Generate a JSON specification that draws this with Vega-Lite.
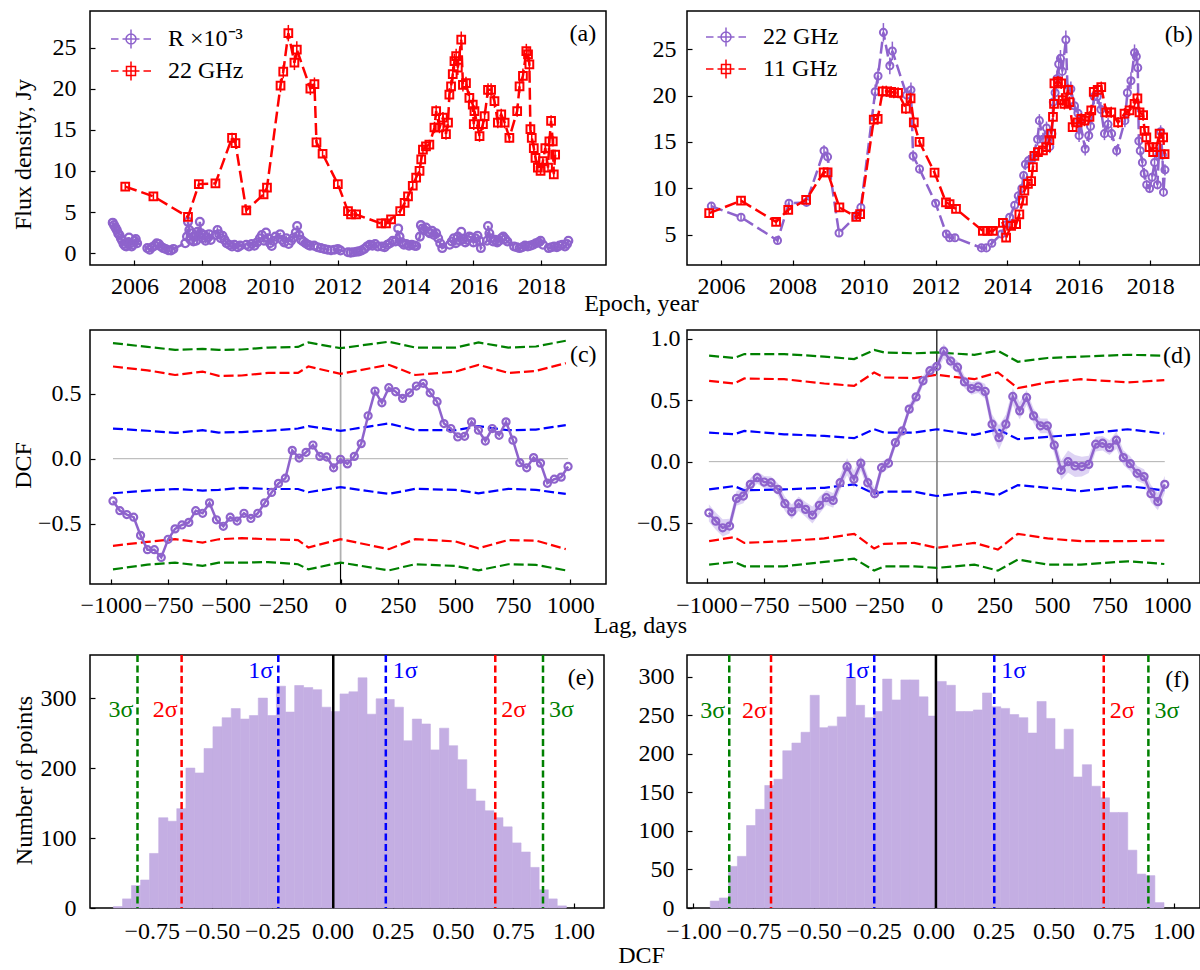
{
"$schema": "https://vega.github.io/schema/vega-lite/v6.json",
"background": "white",
"padding": {"left": 10, "top": 10, "right": 0, "bottom": 0},
"config": {
 "font": "Liberation Serif",
 "view": {"stroke": "black", "strokeWidth": 1.5},
 "axis": {"domain": false, "grid": false, "tickColor": "black", "tickWidth": 1.2, "tickSize": -5, "labelFont": "Liberation Serif", "labelFontSize": 24, "labelColor": "black", "titleFont": "Liberation Serif", "titleFontSize": 24, "titleFontWeight": "normal", "titleColor": "black", "labelFlush": false, "labelOverlap": false},
 "axisX": {"labelPadding": 14},
 "axisY": {"labelPadding": 19}
},
"datasets": {
 "R": [
  {"t":2005.36,"v":3.7},{"t":2005.40,"v":3.4},{"t":2005.44,"v":3.1},{"t":2005.48,"v":2.8},{"t":2005.52,"v":2.4},{"t":2005.56,"v":2.2},{"t":2005.60,"v":1.8},{"t":2005.64,"v":1.5},{"t":2005.68,"v":1.1},{"t":2005.72,"v":0.9},{"t":2005.76,"v":0.8},{"t":2005.80,"v":1.3},{"t":2005.84,"v":1.9},{"t":2005.88,"v":1.2},{"t":2005.92,"v":0.8},{"t":2005.96,"v":1.0},{"t":2006.00,"v":1.5},{"t":2006.04,"v":1.7},{"t":2006.08,"v":1.2},
  {"t":2006.38,"v":0.6},{"t":2006.45,"v":0.4},{"t":2006.52,"v":0.7},{"t":2006.60,"v":0.9},{"t":2006.66,"v":1.2},{"t":2006.72,"v":1.1},{"t":2006.78,"v":0.8},{"t":2006.85,"v":0.6},{"t":2006.92,"v":0.5},{"t":2007.00,"v":0.35},{"t":2007.08,"v":0.3},{"t":2007.15,"v":0.5},
  {"t":2007.50,"v":1.2},{"t":2007.55,"v":2.0},{"t":2007.58,"v":3.8},{"t":2007.62,"v":2.8},{"t":2007.66,"v":1.6},{"t":2007.70,"v":2.4},{"t":2007.74,"v":1.4},{"t":2007.78,"v":2.0},{"t":2007.82,"v":1.5},{"t":2007.86,"v":2.6},{"t":2007.90,"v":2.2},{"t":2007.93,"v":3.8},{"t":2007.97,"v":2.4},{"t":2008.01,"v":1.8},{"t":2008.05,"v":2.2},{"t":2008.10,"v":1.5},{"t":2008.15,"v":1.9},{"t":2008.20,"v":2.3},{"t":2008.25,"v":1.6},
  {"t":2008.40,"v":2.2},{"t":2008.45,"v":2.8},{"t":2008.50,"v":2.3},{"t":2008.55,"v":1.8},{"t":2008.60,"v":2.1},{"t":2008.66,"v":1.6},{"t":2008.72,"v":1.2},{"t":2008.80,"v":1.0},{"t":2008.88,"v":0.8},{"t":2008.95,"v":1.0},{"t":2009.05,"v":0.7},{"t":2009.12,"v":0.9},
  {"t":2009.30,"v":1.0},{"t":2009.38,"v":0.8},{"t":2009.46,"v":1.1},{"t":2009.54,"v":0.9},{"t":2009.62,"v":1.3},{"t":2009.70,"v":1.8},{"t":2009.76,"v":2.2},{"t":2009.82,"v":1.5},{"t":2009.88,"v":2.5},{"t":2009.94,"v":1.8},{"t":2010.00,"v":1.2},{"t":2010.05,"v":0.85},{"t":2010.10,"v":1.5},{"t":2010.16,"v":2.0},
  {"t":2010.30,"v":2.3},{"t":2010.36,"v":1.6},{"t":2010.42,"v":1.3},{"t":2010.48,"v":1.8},{"t":2010.55,"v":1.1},{"t":2010.62,"v":1.5},{"t":2010.70,"v":1.9},{"t":2010.76,"v":2.5},{"t":2010.80,"v":3.3},{"t":2010.86,"v":2.2},{"t":2010.92,"v":1.6},{"t":2010.98,"v":1.4},{"t":2011.05,"v":1.2},{"t":2011.12,"v":1.0},{"t":2011.18,"v":0.9},
  {"t":2011.30,"v":0.9},{"t":2011.40,"v":0.7},{"t":2011.50,"v":0.6},{"t":2011.60,"v":0.5},{"t":2011.70,"v":0.4},{"t":2011.80,"v":0.35},{"t":2011.90,"v":0.4},{"t":2012.00,"v":0.5},{"t":2012.08,"v":0.3},
  {"t":2012.30,"v":0.1},{"t":2012.38,"v":0.05},{"t":2012.46,"v":0.1},{"t":2012.55,"v":0.15},{"t":2012.62,"v":0.2},{"t":2012.70,"v":0.3},{"t":2012.78,"v":0.5},{"t":2012.86,"v":0.8},{"t":2012.94,"v":1.0},{"t":2013.02,"v":0.9},{"t":2013.10,"v":1.1},{"t":2013.18,"v":0.8},
  {"t":2013.30,"v":0.8},{"t":2013.38,"v":0.7},{"t":2013.46,"v":1.0},{"t":2013.54,"v":1.2},{"t":2013.62,"v":1.5},{"t":2013.70,"v":1.4},{"t":2013.78,"v":3.0},{"t":2013.82,"v":2.0},{"t":2013.88,"v":1.3},{"t":2013.95,"v":1.0},{"t":2014.02,"v":1.1},{"t":2014.10,"v":0.9},{"t":2014.18,"v":1.0},{"t":2014.26,"v":0.9},{"t":2014.31,"v":0.85},
  {"t":2014.42,"v":2.0},{"t":2014.45,"v":3.4},{"t":2014.50,"v":3.0},{"t":2014.55,"v":2.8},{"t":2014.60,"v":3.1},{"t":2014.66,"v":2.6},{"t":2014.72,"v":2.4},{"t":2014.78,"v":2.7},{"t":2014.84,"v":2.2},{"t":2014.90,"v":2.4},{"t":2014.96,"v":1.8},{"t":2015.02,"v":1.2},{"t":2015.08,"v":0.6},
  {"t":2015.30,"v":1.0},{"t":2015.36,"v":1.4},{"t":2015.42,"v":1.8},{"t":2015.48,"v":1.2},{"t":2015.54,"v":2.0},{"t":2015.60,"v":1.5},{"t":2015.64,"v":2.6},{"t":2015.70,"v":1.7},{"t":2015.76,"v":1.3},{"t":2015.82,"v":1.6},{"t":2015.88,"v":2.0},{"t":2015.94,"v":1.9},{"t":2016.00,"v":1.3},{"t":2016.06,"v":1.8},{"t":2016.12,"v":2.1},{"t":2016.18,"v":1.5},{"t":2016.22,"v":0.6},
  {"t":2016.40,"v":1.5},{"t":2016.43,"v":3.3},{"t":2016.47,"v":2.4},{"t":2016.52,"v":1.8},{"t":2016.58,"v":1.4},{"t":2016.64,"v":1.6},{"t":2016.70,"v":1.3},{"t":2016.76,"v":1.5},{"t":2016.82,"v":1.8},{"t":2016.88,"v":2.0},{"t":2016.94,"v":1.7},{"t":2017.00,"v":1.4},
  {"t":2017.20,"v":0.8},{"t":2017.28,"v":0.7},{"t":2017.36,"v":0.6},{"t":2017.44,"v":0.7},{"t":2017.52,"v":0.9},{"t":2017.60,"v":0.8},{"t":2017.68,"v":0.9},{"t":2017.76,"v":1.0},{"t":2017.84,"v":1.2},{"t":2017.92,"v":1.3},{"t":2017.98,"v":1.5},{"t":2018.05,"v":1.0},
  {"t":2018.22,"v":0.6},{"t":2018.30,"v":0.7},{"t":2018.38,"v":0.8},{"t":2018.46,"v":0.7},{"t":2018.54,"v":0.9},{"t":2018.62,"v":1.0},{"t":2018.70,"v":0.8},{"t":2018.76,"v":1.1},{"t":2018.80,"v":1.5}
 ],
 "k22": [
  {"t":2005.73,"v":8.1,"e":0.4},{"t":2006.56,"v":6.9,"e":0.4},{"t":2007.58,"v":4.4,"e":0.4},{"t":2007.90,"v":8.4,"e":0.4},{"t":2008.39,"v":8.5,"e":0.4},{"t":2008.88,"v":14.05,"e":0.6},{"t":2008.98,"v":13.4,"e":0.6},{"t":2009.30,"v":5.2,"e":0.4},{"t":2009.81,"v":7.15,"e":0.4},{"t":2009.91,"v":7.96,"e":0.4},{"t":2010.31,"v":20.4,"e":0.8},{"t":2010.39,"v":22.1,"e":0.8},{"t":2010.54,"v":26.8,"e":1.0},{"t":2010.72,"v":23.2,"e":0.9},{"t":2010.79,"v":24.8,"e":1.0},{"t":2011.19,"v":20.05,"e":0.8},{"t":2011.31,"v":20.6,"e":0.8},{"t":2011.37,"v":13.5,"e":0.6},{"t":2011.55,"v":12.1,"e":0.5},{"t":2012.00,"v":8.4,"e":0.4},{"t":2012.30,"v":5.1,"e":0.3},{"t":2012.39,"v":4.7,"e":0.3},{"t":2012.54,"v":4.7,"e":0.3},{"t":2013.28,"v":3.6,"e":0.3},{"t":2013.42,"v":3.6,"e":0.3},{"t":2013.57,"v":4.1,"e":0.3},{"t":2013.84,"v":5.1,"e":0.3},{"t":2013.97,"v":6.1,"e":0.4},{"t":2014.07,"v":6.9,"e":0.4},{"t":2014.21,"v":8.2,"e":0.4},{"t":2014.31,"v":9.2,"e":0.5},{"t":2014.41,"v":10.0,"e":0.5},{"t":2014.46,"v":11.4,"e":0.5},{"t":2014.51,"v":12.6,"e":0.6},{"t":2014.60,"v":13.0,"e":0.6},{"t":2014.70,"v":13.2,"e":0.6},{"t":2014.85,"v":15.3,"e":0.7},{"t":2014.90,"v":17.3,"e":0.7},{"t":2015.00,"v":15.3,"e":0.7},{"t":2015.10,"v":16.5,"e":0.7},{"t":2015.19,"v":14.5,"e":0.7},{"t":2015.25,"v":15.9,"e":0.7},{"t":2015.29,"v":19.3,"e":0.8},{"t":2015.34,"v":20.3,"e":0.8},{"t":2015.39,"v":21.8,"e":0.9},{"t":2015.44,"v":23.4,"e":0.9},{"t":2015.49,"v":24.0,"e":0.9},{"t":2015.54,"v":22.6,"e":0.9},{"t":2015.64,"v":26.0,"e":1.0},{"t":2015.69,"v":20.5,"e":0.8},{"t":2015.78,"v":20.7,"e":0.8},{"t":2015.88,"v":18.9,"e":0.8},{"t":2015.98,"v":18.1,"e":0.8},{"t":2016.01,"v":15.7,"e":0.7},{"t":2016.03,"v":17.3,"e":0.7},{"t":2016.18,"v":14.25,"e":0.7},{"t":2016.28,"v":15.7,"e":0.7},{"t":2016.33,"v":16.7,"e":0.7},{"t":2016.43,"v":19.9,"e":0.8},{"t":2016.52,"v":19.9,"e":0.8},{"t":2016.62,"v":18.5,"e":0.8},{"t":2016.72,"v":15.9,"e":0.7},{"t":2016.82,"v":16.9,"e":0.7},{"t":2016.92,"v":15.9,"e":0.7},{"t":2017.06,"v":14.05,"e":0.6},{"t":2017.29,"v":17.3,"e":0.7},{"t":2017.36,"v":20.3,"e":0.8},{"t":2017.46,"v":21.6,"e":0.9},{"t":2017.56,"v":24.6,"e":0.9},{"t":2017.61,"v":24.2,"e":0.9},{"t":2017.65,"v":23.0,"e":0.9},{"t":2017.68,"v":15.1,"e":0.7},{"t":2017.72,"v":14.05,"e":0.6},{"t":2017.78,"v":12.8,"e":0.6},{"t":2017.83,"v":11.6,"e":0.6},{"t":2017.90,"v":10.4,"e":0.5},{"t":2017.98,"v":10.0,"e":0.5},{"t":2018.05,"v":11.2,"e":0.5},{"t":2018.12,"v":12.8,"e":0.6},{"t":2018.20,"v":10.4,"e":0.5},{"t":2018.24,"v":13.6,"e":0.6},{"t":2018.29,"v":16.1,"e":0.7},{"t":2018.34,"v":13.6,"e":0.6},{"t":2018.37,"v":9.6,"e":0.5},{"t":2018.41,"v":12.0,"e":0.6}
 ],
 "k11": [
  {"t":2005.67,"v":7.34,"e":0.4},{"t":2006.56,"v":8.68,"e":0.4},{"t":2007.54,"v":6.4,"e":0.4},{"t":2007.88,"v":7.7,"e":0.4},{"t":2008.38,"v":8.78,"e":0.4},{"t":2008.87,"v":11.74,"e":0.5},{"t":2008.98,"v":11.74,"e":0.5},{"t":2009.31,"v":7.95,"e":0.4},{"t":2009.78,"v":6.95,"e":0.4},{"t":2009.89,"v":7.24,"e":0.4},{"t":2010.27,"v":17.4,"e":0.6},{"t":2010.38,"v":17.5,"e":0.6},{"t":2010.52,"v":20.46,"e":0.6},{"t":2010.62,"v":20.46,"e":0.6},{"t":2010.76,"v":20.4,"e":0.6},{"t":2010.83,"v":20.3,"e":0.6},{"t":2010.95,"v":20.3,"e":0.6},{"t":2011.17,"v":18.6,"e":0.6},{"t":2011.30,"v":19.7,"e":0.6},{"t":2011.39,"v":17.1,"e":0.6},{"t":2011.55,"v":15.0,"e":0.5},{"t":2011.97,"v":11.7,"e":0.5},{"t":2012.29,"v":8.5,"e":0.4},{"t":2012.39,"v":8.3,"e":0.4},{"t":2012.57,"v":7.8,"e":0.4},{"t":2013.32,"v":5.43,"e":0.4},{"t":2013.45,"v":5.43,"e":0.4},{"t":2013.60,"v":5.43,"e":0.4},{"t":2013.88,"v":6.3,"e":0.4},{"t":2013.97,"v":4.7,"e":0.4},{"t":2014.11,"v":5.97,"e":0.4},{"t":2014.25,"v":6.15,"e":0.4},{"t":2014.34,"v":7.2,"e":0.4},{"t":2014.44,"v":8.7,"e":0.4},{"t":2014.48,"v":9.76,"e":0.4},{"t":2014.58,"v":10.5,"e":0.5},{"t":2014.67,"v":10.8,"e":0.5},{"t":2014.72,"v":12.3,"e":0.5},{"t":2014.76,"v":13.5,"e":0.5},{"t":2014.86,"v":13.9,"e":0.5},{"t":2015.00,"v":14.1,"e":0.5},{"t":2015.09,"v":14.45,"e":0.5},{"t":2015.18,"v":15.2,"e":0.5},{"t":2015.23,"v":15.9,"e":0.5},{"t":2015.28,"v":17.7,"e":0.6},{"t":2015.31,"v":19.1,"e":0.6},{"t":2015.32,"v":21.3,"e":0.6},{"t":2015.42,"v":21.5,"e":0.6},{"t":2015.51,"v":21.3,"e":0.6},{"t":2015.55,"v":19.5,"e":0.6},{"t":2015.60,"v":19.1,"e":0.6},{"t":2015.70,"v":20.6,"e":0.6},{"t":2015.74,"v":19.3,"e":0.6},{"t":2015.83,"v":16.6,"e":0.5},{"t":2015.97,"v":17.1,"e":0.6},{"t":2016.07,"v":17.5,"e":0.6},{"t":2016.16,"v":17.3,"e":0.6},{"t":2016.30,"v":17.7,"e":0.6},{"t":2016.35,"v":18.4,"e":0.6},{"t":2016.42,"v":20.4,"e":0.6},{"t":2016.53,"v":20.6,"e":0.6},{"t":2016.63,"v":20.9,"e":0.6},{"t":2016.77,"v":18.2,"e":0.6},{"t":2016.91,"v":18.2,"e":0.6},{"t":2017.10,"v":17.1,"e":0.6},{"t":2017.28,"v":18.05,"e":0.6},{"t":2017.42,"v":18.4,"e":0.6},{"t":2017.56,"v":19.1,"e":0.6},{"t":2017.64,"v":19.7,"e":0.6},{"t":2017.70,"v":18.2,"e":0.6},{"t":2017.80,"v":17.9,"e":0.6},{"t":2017.84,"v":16.2,"e":0.5},{"t":2017.89,"v":15.5,"e":0.5},{"t":2017.98,"v":14.45,"e":0.5},{"t":2018.08,"v":13.9,"e":0.5},{"t":2018.17,"v":14.45,"e":0.5},{"t":2018.26,"v":15.9,"e":0.5},{"t":2018.36,"v":15.5,"e":0.5},{"t":2018.40,"v":13.7,"e":0.5}
 ],
 "dcfc": [
  {"lag":-990,"v":-0.325},{"lag":-960,"v":-0.40},{"lag":-930,"v":-0.43},{"lag":-900,"v":-0.45},{"lag":-870,"v":-0.59},{"lag":-840,"v":-0.70},{"lag":-810,"v":-0.70},{"lag":-780,"v":-0.76},{"lag":-750,"v":-0.62},{"lag":-720,"v":-0.54},{"lag":-690,"v":-0.51},{"lag":-660,"v":-0.49},{"lag":-630,"v":-0.40},{"lag":-600,"v":-0.42},{"lag":-570,"v":-0.34},{"lag":-540,"v":-0.47},{"lag":-510,"v":-0.52},{"lag":-480,"v":-0.45},{"lag":-450,"v":-0.48},{"lag":-420,"v":-0.42},{"lag":-390,"v":-0.46},{"lag":-360,"v":-0.42},{"lag":-330,"v":-0.34},{"lag":-300,"v":-0.26},{"lag":-270,"v":-0.19},{"lag":-240,"v":-0.15},{"lag":-210,"v":0.064},{"lag":-180,"v":0.005},{"lag":-150,"v":0.049},{"lag":-120,"v":0.105},{"lag":-90,"v":0.018},{"lag":-60,"v":0.013},{"lag":-30,"v":-0.07},{"lag":0,"v":-0.005},{"lag":30,"v":-0.04},{"lag":60,"v":0.018},{"lag":90,"v":0.116},{"lag":120,"v":0.33},{"lag":150,"v":0.52},{"lag":180,"v":0.43},{"lag":210,"v":0.546},{"lag":240,"v":0.515},{"lag":270,"v":0.464},{"lag":300,"v":0.507},{"lag":330,"v":0.559},{"lag":360,"v":0.58},{"lag":390,"v":0.507},{"lag":420,"v":0.438},{"lag":450,"v":0.27},{"lag":480,"v":0.232},{"lag":510,"v":0.167},{"lag":540,"v":0.172},{"lag":570,"v":0.283},{"lag":600,"v":0.219},{"lag":630,"v":0.136},{"lag":660,"v":0.232},{"lag":690,"v":0.18},{"lag":720,"v":0.283},{"lag":750,"v":0.142},{"lag":780,"v":-0.031},{"lag":810,"v":-0.07},{"lag":840,"v":0.008},{"lag":870,"v":-0.034},{"lag":900,"v":-0.189},{"lag":930,"v":-0.158},{"lag":960,"v":-0.142},{"lag":990,"v":-0.06}
 ],
 "dcfd": [
  {"lag":-990,"v":-0.417,"e":0.07},{"lag":-960,"v":-0.485,"e":0.07},{"lag":-930,"v":-0.539,"e":0.07},{"lag":-900,"v":-0.525,"e":0.06},{"lag":-870,"v":-0.30,"e":0.06},{"lag":-840,"v":-0.28,"e":0.06},{"lag":-810,"v":-0.185,"e":0.05},{"lag":-780,"v":-0.131,"e":0.05},{"lag":-750,"v":-0.166,"e":0.05},{"lag":-720,"v":-0.172,"e":0.05},{"lag":-690,"v":-0.226,"e":0.05},{"lag":-660,"v":-0.343,"e":0.06},{"lag":-630,"v":-0.409,"e":0.06},{"lag":-600,"v":-0.343,"e":0.06},{"lag":-570,"v":-0.389,"e":0.06},{"lag":-540,"v":-0.435,"e":0.07},{"lag":-510,"v":-0.356,"e":0.07},{"lag":-480,"v":-0.294,"e":0.06},{"lag":-450,"v":-0.316,"e":0.06},{"lag":-420,"v":-0.172,"e":0.06},{"lag":-390,"v":-0.041,"e":0.07},{"lag":-360,"v":-0.144,"e":0.07},{"lag":-330,"v":-0.013,"e":0.06},{"lag":-300,"v":-0.172,"e":0.06},{"lag":-270,"v":-0.261,"e":0.05},{"lag":-240,"v":-0.049,"e":0.05},{"lag":-210,"v":-0.013,"e":0.04},{"lag":-180,"v":0.155,"e":0.04},{"lag":-150,"v":0.25,"e":0.04},{"lag":-120,"v":0.428,"e":0.04},{"lag":-90,"v":0.528,"e":0.04},{"lag":-60,"v":0.659,"e":0.04},{"lag":-30,"v":0.741,"e":0.04},{"lag":0,"v":0.776,"e":0.04},{"lag":30,"v":0.90,"e":0.06},{"lag":60,"v":0.82,"e":0.05},{"lag":90,"v":0.77,"e":0.05},{"lag":120,"v":0.65,"e":0.05},{"lag":150,"v":0.596,"e":0.05},{"lag":180,"v":0.61,"e":0.05},{"lag":210,"v":0.572,"e":0.06},{"lag":240,"v":0.305,"e":0.08},{"lag":270,"v":0.196,"e":0.1},{"lag":300,"v":0.305,"e":0.08},{"lag":330,"v":0.531,"e":0.07},{"lag":360,"v":0.414,"e":0.07},{"lag":390,"v":0.523,"e":0.06},{"lag":420,"v":0.373,"e":0.06},{"lag":450,"v":0.292,"e":0.06},{"lag":480,"v":0.292,"e":0.06},{"lag":510,"v":0.134,"e":0.07},{"lag":540,"v":-0.07,"e":0.08},{"lag":570,"v":0.0,"e":0.09},{"lag":600,"v":-0.035,"e":0.09},{"lag":630,"v":-0.04,"e":0.08},{"lag":660,"v":-0.022,"e":0.07},{"lag":690,"v":0.142,"e":0.06},{"lag":720,"v":0.15,"e":0.06},{"lag":750,"v":0.114,"e":0.06},{"lag":780,"v":0.175,"e":0.07},{"lag":810,"v":0.033,"e":0.06},{"lag":840,"v":-0.016,"e":0.06},{"lag":870,"v":-0.095,"e":0.06},{"lag":900,"v":-0.122,"e":0.06},{"lag":930,"v":-0.261,"e":0.07},{"lag":960,"v":-0.326,"e":0.07},{"lag":990,"v":-0.185,"e":0.07}
 ],
 "sigc": [
  {"lag":-990,"g1":0.889,"r1":0.709,"b1":0.232,"b2":-0.266,"r2":-0.67,"g2":-0.851},
  {"lag":-840,"g1":0.86,"r1":0.68,"b1":0.215,"b2":-0.245,"r2":-0.64,"g2":-0.815},
  {"lag":-720,"g1":0.837,"r1":0.644,"b1":0.198,"b2":-0.233,"r2":-0.619,"g2":-0.799},
  {"lag":-600,"g1":0.845,"r1":0.67,"b1":0.219,"b2":-0.245,"r2":-0.645,"g2":-0.825},
  {"lag":-530,"g1":0.837,"r1":0.637,"b1":0.201,"b2":-0.24,"r2":-0.62,"g2":-0.80},
  {"lag":-430,"g1":0.84,"r1":0.64,"b1":0.205,"b2":-0.224,"r2":-0.611,"g2":-0.80},
  {"lag":-315,"g1":0.855,"r1":0.66,"b1":0.215,"b2":-0.233,"r2":-0.62,"g2":-0.795},
  {"lag":-185,"g1":0.86,"r1":0.66,"b1":0.232,"b2":-0.233,"r2":-0.626,"g2":-0.812},
  {"lag":-140,"g1":0.894,"r1":0.709,"b1":0.25,"b2":-0.258,"r2":-0.683,"g2":-0.851},
  {"lag":0,"g1":0.85,"r1":0.653,"b1":0.214,"b2":-0.219,"r2":-0.619,"g2":-0.799},
  {"lag":210,"g1":0.9,"r1":0.722,"b1":0.271,"b2":-0.271,"r2":-0.696,"g2":-0.859},
  {"lag":325,"g1":0.855,"r1":0.644,"b1":0.219,"b2":-0.232,"r2":-0.619,"g2":-0.812},
  {"lag":500,"g1":0.855,"r1":0.67,"b1":0.219,"b2":-0.24,"r2":-0.637,"g2":-0.825},
  {"lag":600,"g1":0.894,"r1":0.722,"b1":0.25,"b2":-0.266,"r2":-0.689,"g2":-0.859},
  {"lag":730,"g1":0.855,"r1":0.66,"b1":0.219,"b2":-0.232,"r2":-0.626,"g2":-0.812},
  {"lag":850,"g1":0.863,"r1":0.675,"b1":0.224,"b2":-0.24,"r2":-0.63,"g2":-0.817},
  {"lag":980,"g1":0.907,"r1":0.735,"b1":0.258,"b2":-0.271,"r2":-0.696,"g2":-0.859}
 ],
 "sigd": [
  {"lag":-989,"g1":0.864,"r1":0.659,"b1":0.237,"b2":-0.226,"r2":-0.648,"g2":-0.839},
  {"lag":-880,"g1":0.845,"r1":0.637,"b1":0.223,"b2":-0.199,"r2":-0.615,"g2":-0.817},
  {"lag":-836,"g1":0.877,"r1":0.678,"b1":0.251,"b2":-0.234,"r2":-0.662,"g2":-0.853},
  {"lag":-663,"g1":0.877,"r1":0.672,"b1":0.223,"b2":-0.226,"r2":-0.648,"g2":-0.853},
  {"lag":-489,"g1":0.856,"r1":0.637,"b1":0.21,"b2":-0.213,"r2":-0.626,"g2":-0.817},
  {"lag":-359,"g1":0.836,"r1":0.618,"b1":0.191,"b2":-0.185,"r2":-0.588,"g2":-0.79},
  {"lag":-272,"g1":0.91,"r1":0.727,"b1":0.264,"b2":-0.261,"r2":-0.708,"g2":-0.888},
  {"lag":-229,"g1":0.89,"r1":0.686,"b1":0.237,"b2":-0.245,"r2":-0.67,"g2":-0.853},
  {"lag":-98,"g1":0.883,"r1":0.681,"b1":0.237,"b2":-0.245,"r2":-0.662,"g2":-0.853},
  {"lag":0,"g1":0.89,"r1":0.708,"b1":0.264,"b2":-0.28,"r2":-0.703,"g2":-0.866},
  {"lag":163,"g1":0.871,"r1":0.672,"b1":0.218,"b2":-0.245,"r2":-0.662,"g2":-0.839},
  {"lag":265,"g1":0.904,"r1":0.727,"b1":0.264,"b2":-0.272,"r2":-0.716,"g2":-0.888},
  {"lag":352,"g1":0.814,"r1":0.599,"b1":0.183,"b2":-0.191,"r2":-0.588,"g2":-0.798},
  {"lag":481,"g1":0.845,"r1":0.646,"b1":0.202,"b2":-0.213,"r2":-0.626,"g2":-0.839},
  {"lag":626,"g1":0.856,"r1":0.672,"b1":0.223,"b2":-0.24,"r2":-0.648,"g2":-0.839},
  {"lag":829,"g1":0.871,"r1":0.646,"b1":0.264,"b2":-0.199,"r2":-0.648,"g2":-0.812},
  {"lag":988,"g1":0.864,"r1":0.664,"b1":0.229,"b2":-0.234,"r2":-0.643,"g2":-0.834}
 ],
 "he": [
  {"a":-0.909,"b":-0.871,"n":2},{"a":-0.871,"b":-0.834,"n":13},{"a":-0.834,"b":-0.796,"n":32},{"a":-0.796,"b":-0.759,"n":40},{"a":-0.759,"b":-0.721,"n":78},{"a":-0.721,"b":-0.683,"n":129},{"a":-0.683,"b":-0.646,"n":124},{"a":-0.646,"b":-0.608,"n":142},{"a":-0.608,"b":-0.571,"n":200},{"a":-0.571,"b":-0.533,"n":193},{"a":-0.533,"b":-0.496,"n":228},{"a":-0.496,"b":-0.458,"n":259},{"a":-0.458,"b":-0.420,"n":272},{"a":-0.420,"b":-0.383,"n":285},{"a":-0.383,"b":-0.345,"n":270},{"a":-0.345,"b":-0.308,"n":275},{"a":-0.308,"b":-0.270,"n":300},{"a":-0.270,"b":-0.233,"n":275},{"a":-0.233,"b":-0.195,"n":317},{"a":-0.195,"b":-0.157,"n":280},{"a":-0.157,"b":-0.120,"n":318},{"a":-0.120,"b":-0.082,"n":315},{"a":-0.082,"b":-0.045,"n":312},{"a":-0.045,"b":-0.007,"n":287},{"a":-0.007,"b":0.031,"n":281},{"a":0.031,"b":0.068,"n":306},{"a":0.068,"b":0.106,"n":309},{"a":0.106,"b":0.143,"n":329},{"a":0.143,"b":0.181,"n":277},{"a":0.181,"b":0.219,"n":299},{"a":0.219,"b":0.256,"n":298},{"a":0.256,"b":0.294,"n":287},{"a":0.294,"b":0.331,"n":239},{"a":0.331,"b":0.369,"n":270},{"a":0.369,"b":0.406,"n":263},{"a":0.406,"b":0.444,"n":226},{"a":0.444,"b":0.482,"n":257},{"a":0.482,"b":0.519,"n":232},{"a":0.519,"b":0.557,"n":212},{"a":0.557,"b":0.594,"n":170},{"a":0.594,"b":0.632,"n":153},{"a":0.632,"b":0.669,"n":139},{"a":0.669,"b":0.707,"n":129},{"a":0.707,"b":0.745,"n":116},{"a":0.745,"b":0.782,"n":93},{"a":0.782,"b":0.820,"n":80},{"a":0.820,"b":0.857,"n":58},{"a":0.857,"b":0.895,"n":26},{"a":0.895,"b":0.932,"n":13},{"a":0.932,"b":0.970,"n":3}
 ],
 "hf": [
  {"a":-0.930,"b":-0.892,"n":9},{"a":-0.892,"b":-0.854,"n":13},{"a":-0.854,"b":-0.817,"n":54},{"a":-0.817,"b":-0.779,"n":67},{"a":-0.779,"b":-0.741,"n":107},{"a":-0.741,"b":-0.703,"n":128},{"a":-0.703,"b":-0.665,"n":159},{"a":-0.665,"b":-0.628,"n":167},{"a":-0.628,"b":-0.590,"n":204},{"a":-0.590,"b":-0.552,"n":214},{"a":-0.552,"b":-0.514,"n":228},{"a":-0.514,"b":-0.476,"n":276},{"a":-0.476,"b":-0.439,"n":234},{"a":-0.439,"b":-0.401,"n":236},{"a":-0.401,"b":-0.363,"n":248},{"a":-0.363,"b":-0.325,"n":299},{"a":-0.325,"b":-0.287,"n":263},{"a":-0.287,"b":-0.250,"n":247},{"a":-0.250,"b":-0.212,"n":255},{"a":-0.212,"b":-0.174,"n":297},{"a":-0.174,"b":-0.136,"n":270},{"a":-0.136,"b":-0.098,"n":296},{"a":-0.098,"b":-0.061,"n":296},{"a":-0.061,"b":-0.023,"n":274},{"a":-0.023,"b":0.015,"n":249},{"a":0.015,"b":0.053,"n":294},{"a":0.053,"b":0.091,"n":289},{"a":0.091,"b":0.128,"n":255},{"a":0.128,"b":0.166,"n":255},{"a":0.166,"b":0.204,"n":257},{"a":0.204,"b":0.242,"n":279},{"a":0.242,"b":0.280,"n":261},{"a":0.280,"b":0.317,"n":259},{"a":0.317,"b":0.355,"n":251},{"a":0.355,"b":0.393,"n":247},{"a":0.393,"b":0.431,"n":227},{"a":0.431,"b":0.469,"n":268},{"a":0.469,"b":0.506,"n":246},{"a":0.506,"b":0.544,"n":206},{"a":0.544,"b":0.582,"n":232},{"a":0.582,"b":0.620,"n":170},{"a":0.620,"b":0.658,"n":186},{"a":0.658,"b":0.695,"n":158},{"a":0.695,"b":0.733,"n":143},{"a":0.733,"b":0.771,"n":124},{"a":0.771,"b":0.809,"n":124},{"a":0.809,"b":0.847,"n":75},{"a":0.847,"b":0.884,"n":44},{"a":0.884,"b":0.922,"n":42},{"a":0.922,"b":0.960,"n":7}
 ],
 "se": [{"lv":"3σ","v":-0.809},{"lv":"2σ","v":-0.626},{"lv":"1σ","v":-0.225},{"lv":"1σ","v":0.221},{"lv":"2σ","v":0.675},{"lv":"3σ","v":0.873}],
 "sf": [{"lv":"3σ","v":-0.851},{"lv":"2σ","v":-0.677},{"lv":"1σ","v":-0.247},{"lv":"1σ","v":0.253},{"lv":"2σ","v":0.709},{"lv":"3σ","v":0.895}]
},
"spacing": 10,
"resolve": {"scale": {"color": "independent"}, "legend": {"color": "independent"}},
"vconcat": [
 {"hconcat": [
  {"width": 516, "height": 254,
   "layer": [
    {"data": {"name": "R"}, "mark": {"type": "line", "color": "#8e63cc", "strokeDash": [12,5], "strokeWidth": 2.5},
     "encoding": {
      "x": {"field": "t", "type": "quantitative", "scale": {"domain": [2004.69, 2019.91], "nice": false, "zero": false}, "axis": {"values": [2006,2008,2010,2012,2014,2016,2018], "format": "d", "labelPadding": 14, "title": "Epoch, year", "titleX": 551, "titleY": 45, "titleAlign": "center", "titleBaseline": "alphabetic"}},
      "y": {"field": "v", "type": "quantitative", "scale": {"domain": [-1.46, 29.5], "nice": false, "zero": false}, "axis": {"values": [0,5,10,15,20,25], "format": "d", "labelPadding": 19, "title": "Flux density, Jy", "titleX": -60, "titleY": 143, "titleAngle": 270, "titleAlign": "center", "titleBaseline": "alphabetic"}}
     }},
    {"data": {"name": "R"}, "mark": {"type": "point", "filled": false, "strokeWidth": 2.3, "size": 60, "opacity": 1},
     "encoding": {"x": {"field": "t", "type": "quantitative"}, "y": {"field": "v", "type": "quantitative"},
      "color": {"datum": "R ×10⁻³", "type": "nominal", "scale": {"domain": ["R ×10⁻³", "22 GHz"], "range": ["#8e63cc", "#ff0000"]},
        "legend": {"orient": "none", "legendX": 29, "legendY": 16, "title": null, "padding": 0, "symbolSize": 400, "labelOffset": 25, "rowPadding": 6, "labelFontSize": 24, "labelFont": "Liberation Serif", "labelColor": "black",
          "symbolType": {"expr": "datum.value == '22 GHz' ? 'M-2,0H-1.25M-0.85,0H0.85M1.25,0H2M0,-0.95V0.95M-0.45,-0.45H0.45V0.45H-0.45Z' : 'M-2,0H-1.25M-0.85,0H0.85M1.25,0H2M0,-0.95V0.95M0.5,0A0.5,0.5,0,1,1,-0.5,0A0.5,0.5,0,1,1,0.5,0Z'"}}}}},
    {"data": {"name": "k22"}, "mark": {"type": "line", "color": "#ff0000", "strokeDash": [12,5], "strokeWidth": 2.5},
     "encoding": {"x": {"field": "t", "type": "quantitative"}, "y": {"field": "v", "type": "quantitative"}}},
    {"data": {"name": "k22"}, "mark": {"type": "errorbar", "color": "#ff0000", "thickness": 1.5},
     "encoding": {"x": {"field": "t", "type": "quantitative"}, "y": {"field": "v", "type": "quantitative", "title": "Flux density, Jy"}, "yError": {"field": "e"}}},
    {"data": {"name": "k22"}, "mark": {"type": "point", "shape": "square", "filled": false, "strokeWidth": 2, "size": 60, "opacity": 1},
     "encoding": {"x": {"field": "t", "type": "quantitative"}, "y": {"field": "v", "type": "quantitative"}, "color": {"datum": "22 GHz", "type": "nominal"}}},
    {"data": {"values": [{}]}, "mark": {"type": "text", "text": "(a)", "align": "right", "baseline": "middle", "fontSize": 24, "color": "black"},
     "encoding": {"x": {"datum": 2019.62}, "y": {"datum": 26.64}}}
   ]},
  {"width": 513, "height": 254,
   "layer": [
    {"data": {"name": "k22"}, "mark": {"type": "line", "color": "#8e63cc", "strokeDash": [12,5], "strokeWidth": 2.5},
     "encoding": {
      "x": {"field": "t", "type": "quantitative", "scale": {"domain": [2005.05, 2019.39], "nice": false, "zero": false}, "axis": {"values": [2006,2008,2010,2012,2014,2016,2018], "format": "d", "labelPadding": 14, "title": null}},
      "y": {"field": "v", "type": "quantitative", "scale": {"domain": [1.76, 29.1], "nice": false, "zero": false}, "axis": {"values": [5,10,15,20,25], "format": "d", "labelPadding": 16, "title": null}}
     }},
    {"data": {"name": "k22"}, "mark": {"type": "errorbar", "color": "#8e63cc", "thickness": 1.5},
     "encoding": {"x": {"field": "t", "type": "quantitative"}, "y": {"field": "v", "type": "quantitative", "title": null}, "yError": {"field": "e"}}},
    {"data": {"name": "k22"}, "mark": {"type": "point", "filled": false, "strokeWidth": 2, "size": 50, "opacity": 1},
     "encoding": {"x": {"field": "t", "type": "quantitative"}, "y": {"field": "v", "type": "quantitative"},
      "color": {"datum": "22 GHz", "type": "nominal", "scale": {"domain": ["22 GHz", "11 GHz"], "range": ["#8e63cc", "#ff0000"]},
        "legend": {"orient": "none", "legendX": 27, "legendY": 14, "title": null, "padding": 0, "symbolSize": 400, "labelOffset": 25, "rowPadding": 6, "labelFontSize": 24, "labelFont": "Liberation Serif", "labelColor": "black",
          "symbolType": {"expr": "datum.value == '11 GHz' ? 'M-2,0H-1.25M-0.85,0H0.85M1.25,0H2M0,-0.95V0.95M-0.45,-0.45H0.45V0.45H-0.45Z' : 'M-2,0H-1.25M-0.85,0H0.85M1.25,0H2M0,-0.95V0.95M0.5,0A0.5,0.5,0,1,1,-0.5,0A0.5,0.5,0,1,1,0.5,0Z'"}}}}},
    {"data": {"name": "k11"}, "mark": {"type": "line", "color": "#ff0000", "strokeDash": [12,5], "strokeWidth": 2.5},
     "encoding": {"x": {"field": "t", "type": "quantitative"}, "y": {"field": "v", "type": "quantitative"}}},
    {"data": {"name": "k11"}, "mark": {"type": "errorbar", "color": "#ff0000", "thickness": 1.5},
     "encoding": {"x": {"field": "t", "type": "quantitative"}, "y": {"field": "v", "type": "quantitative", "title": null}, "yError": {"field": "e"}}},
    {"data": {"name": "k11"}, "mark": {"type": "point", "shape": "square", "filled": false, "strokeWidth": 2, "size": 60, "opacity": 1},
     "encoding": {"x": {"field": "t", "type": "quantitative"}, "y": {"field": "v", "type": "quantitative"}, "color": {"datum": "11 GHz", "type": "nominal"}}},
    {"data": {"values": [{}]}, "mark": {"type": "text", "text": "(b)", "align": "right", "baseline": "middle", "fontSize": 24, "color": "black"},
     "encoding": {"x": {"datum": 2019.19}, "y": {"datum": 26.5}}}
   ]}
 ], "spacing": 81, "bounds": "flush", "resolve": {"scale": {"color": "independent"}, "legend": {"color": "independent"}}},
 {"spacing": 15, "resolve": {"scale": {"color": "independent"}, "legend": {"color": "independent"}}, "vconcat": [
  {"hconcat": [
   {"width": 516, "height": 254,
    "layer": [
     {"data": {"values": [{}]}, "mark": {"type": "rule", "color": "#b0b0b0", "strokeWidth": 1},
      "encoding": {
       "x": {"datum": -990, "type": "quantitative", "scale": {"domain": [-1090, 1155], "nice": false, "zero": false}, "axis": {"values": [-1000,-750,-500,-250,0,250,500,750,1000], "format": "d", "labelPadding": 14, "title": "Lag, days", "titleX": 550, "titleY": 48, "titleAlign": "center", "titleBaseline": "alphabetic"}},
       "x2": {"datum": 990},
       "y": {"datum": 0, "type": "quantitative", "scale": {"domain": [-0.964, 0.99], "nice": false, "zero": false}, "axis": {"values": [-0.5, 0, 0.5], "format": ".1f", "labelPadding": 14, "title": "DCF", "titleX": -60, "titleY": 135, "titleAngle": 270, "titleAlign": "center", "titleBaseline": "alphabetic"}}
      }},
     {"data": {"values": [{}]}, "mark": {"type": "rule", "color": "black", "strokeWidth": 1.2}, "encoding": {"x": {"datum": 0}}},
     {"data": {"values": [{}]}, "mark": {"type": "rule", "color": "#b0b0b0", "strokeWidth": 1.2}, "encoding": {"x": {"datum": 0}, "y": {"datum": 0.63}, "y2": {"datum": -0.8}}},
     {"data": {"name": "sigc"}, "transform": [{"fold": ["g1","r1","b1","b2","r2","g2"], "as": ["s","v"]}],
      "mark": {"type": "line", "strokeDash": [10,4], "strokeWidth": 2.2},
      "encoding": {"x": {"field": "lag", "type": "quantitative"}, "y": {"field": "v", "type": "quantitative"},
       "color": {"field": "s", "type": "nominal", "scale": {"domain": ["g1","r1","b1","b2","r2","g2"], "range": ["#008000","#ff0000","#0000ff","#0000ff","#ff0000","#008000"]}, "legend": null}}},
     {"data": {"name": "dcfc"}, "mark": {"type": "line", "color": "#8e63cc", "strokeWidth": 2.5},
      "encoding": {"x": {"field": "lag", "type": "quantitative"}, "y": {"field": "v", "type": "quantitative"}}},
     {"data": {"name": "dcfc"}, "mark": {"type": "point", "filled": false, "color": "#8e63cc", "strokeWidth": 2.2, "size": 50, "opacity": 1},
      "encoding": {"x": {"field": "lag", "type": "quantitative"}, "y": {"field": "v", "type": "quantitative"}}},
     {"data": {"values": [{}]}, "mark": {"type": "text", "text": "(c)", "align": "right", "baseline": "middle", "fontSize": 24, "color": "black"},
      "encoding": {"x": {"datum": 1114}, "y": {"datum": 0.8}}}
    ]},
   {"width": 513, "height": 253,
    "layer": [
     {"data": {"values": [{}]}, "mark": {"type": "rule", "color": "#b0b0b0", "strokeWidth": 1},
      "encoding": {
       "x": {"datum": -990, "type": "quantitative", "scale": {"domain": [-1085, 1143], "nice": false, "zero": false}, "axis": {"values": [-1000,-750,-500,-250,0,250,500,750,1000], "format": "d", "labelPadding": 15, "title": null}},
       "x2": {"datum": 990},
       "y": {"datum": 0, "type": "quantitative", "scale": {"domain": [-0.989, 1.073], "nice": false, "zero": false}, "axis": {"values": [-0.5, 0, 0.5, 1.0], "format": ".1f", "labelPadding": 12, "title": null}}
      }},
     {"data": {"values": [{}]}, "mark": {"type": "rule", "color": "black", "strokeWidth": 1.2}, "encoding": {"x": {"datum": 0}}},
     {"data": {"values": [{}]}, "mark": {"type": "rule", "color": "#b0b0b0", "strokeWidth": 1.2}, "encoding": {"x": {"datum": 0}, "y": {"datum": 0.71}, "y2": {"datum": -0.7}}},
     {"data": {"name": "sigd"}, "transform": [{"fold": ["g1","r1","b1","b2","r2","g2"], "as": ["s","v"]}],
      "mark": {"type": "line", "strokeDash": [10,4], "strokeWidth": 2.2},
      "encoding": {"x": {"field": "lag", "type": "quantitative"}, "y": {"field": "v", "type": "quantitative"},
       "color": {"field": "s", "type": "nominal", "scale": {"domain": ["g1","r1","b1","b2","r2","g2"], "range": ["#008000","#ff0000","#0000ff","#0000ff","#ff0000","#008000"]}, "legend": null}}},
     {"data": {"name": "dcfd"}, "mark": {"type": "errorband", "color": "#9370db", "opacity": 0.3},
      "encoding": {"x": {"field": "lag", "type": "quantitative"}, "y": {"field": "v", "type": "quantitative", "title": null}, "yError": {"field": "e"}}},
     {"data": {"name": "dcfd"}, "mark": {"type": "line", "color": "#8e63cc", "strokeWidth": 2.5},
      "encoding": {"x": {"field": "lag", "type": "quantitative"}, "y": {"field": "v", "type": "quantitative"}}},
     {"data": {"name": "dcfd"}, "mark": {"type": "point", "filled": false, "color": "#8e63cc", "strokeWidth": 2.2, "size": 50, "opacity": 1},
      "encoding": {"x": {"field": "lag", "type": "quantitative"}, "y": {"field": "v", "type": "quantitative"}}},
     {"data": {"values": [{}]}, "mark": {"type": "text", "text": "(d)", "align": "right", "baseline": "middle", "fontSize": 24, "color": "black"},
      "encoding": {"x": {"datum": 1104}, "y": {"datum": 0.864}}}
    ]}
  ], "spacing": 81, "bounds": "flush", "resolve": {"scale": {"color": "independent"}, "legend": {"color": "independent"}}},
  {"hconcat": [
   {"width": 514, "height": 253,
    "layer": [
     {"data": {"name": "he"}, "mark": {"type": "bar", "color": "#c4aee3", "stroke": "#c4aee3", "strokeWidth": 0.6, "opacity": 1},
      "encoding": {
       "x": {"field": "a", "type": "quantitative", "scale": {"domain": [-1.006, 1.126], "nice": false, "zero": false}, "axis": {"values": [-0.75,-0.5,-0.25,0,0.25,0.5,0.75,1.0], "format": ".2f", "labelPadding": 16, "title": "DCF", "titleX": 551, "titleY": 54, "titleAlign": "center", "titleBaseline": "alphabetic"}},
       "x2": {"field": "b"},
       "y": {"field": "n", "type": "quantitative", "scale": {"domain": [0, 361.6], "nice": false}, "axis": {"values": [0,100,200,300], "format": "d", "labelPadding": 19, "title": "Number of points", "titleX": -59, "titleY": 125, "titleAngle": 270, "titleAlign": "center", "titleBaseline": "alphabetic"}},
       "y2": {"datum": 0}
      }},
     {"data": {"name": "se"}, "mark": {"type": "rule", "strokeDash": [7,3.5], "strokeWidth": 2.5},
      "encoding": {"x": {"field": "v", "type": "quantitative"}, "color": {"field": "lv", "type": "nominal", "scale": {"domain": ["1σ","2σ","3σ"], "range": ["#0000ff","#ff0000","#008000"]}, "legend": null}}},
     {"data": {"values": [{}]}, "mark": {"type": "rule", "color": "black", "strokeWidth": 2.5}, "encoding": {"x": {"datum": 0.003}}},
     {"data": {"name": "se"}, "transform": [{"filter": "datum.v < 0 && datum.lv == '1σ'"}], "mark": {"type": "text", "align": "right", "baseline": "middle", "dx": -5, "fontSize": 24},
      "encoding": {"x": {"field": "v", "type": "quantitative"}, "y": {"datum": 339}, "text": {"field": "lv"}, "color": {"field": "lv", "type": "nominal", "legend": null}}},
     {"data": {"name": "se"}, "transform": [{"filter": "datum.v < 0 && datum.lv != '1σ'"}], "mark": {"type": "text", "align": "right", "baseline": "middle", "dx": -4, "fontSize": 24},
      "encoding": {"x": {"field": "v", "type": "quantitative"}, "y": {"datum": 283}, "text": {"field": "lv"}, "color": {"field": "lv", "type": "nominal", "legend": null}}},
     {"data": {"name": "se"}, "transform": [{"filter": "datum.v > 0 && datum.lv == '1σ'"}], "mark": {"type": "text", "align": "left", "baseline": "middle", "dx": 7, "fontSize": 24},
      "encoding": {"x": {"field": "v", "type": "quantitative"}, "y": {"datum": 339}, "text": {"field": "lv"}, "color": {"field": "lv", "type": "nominal", "legend": null}}},
     {"data": {"name": "se"}, "transform": [{"filter": "datum.v > 0 && datum.lv != '1σ'"}], "mark": {"type": "text", "align": "left", "baseline": "middle", "dx": 6, "fontSize": 24},
      "encoding": {"x": {"field": "v", "type": "quantitative"}, "y": {"datum": 283}, "text": {"field": "lv"}, "color": {"field": "lv", "type": "nominal", "legend": null}}},
     {"data": {"values": [{}]}, "mark": {"type": "text", "text": "(e)", "align": "right", "baseline": "middle", "fontSize": 24, "color": "black"},
      "encoding": {"x": {"datum": 1.086}, "y": {"datum": 329}}}
    ]},
   {"width": 513, "height": 253,
    "layer": [
     {"data": {"name": "hf"}, "mark": {"type": "bar", "color": "#c4aee3", "stroke": "#c4aee3", "strokeWidth": 0.6, "opacity": 1},
      "encoding": {
       "x": {"field": "a", "type": "quantitative", "scale": {"domain": [-1.027, 1.11], "nice": false, "zero": false}, "axis": {"values": [-1.0,-0.75,-0.5,-0.25,0,0.25,0.5,0.75,1.0], "format": ".2f", "labelPadding": 16, "title": null}},
       "x2": {"field": "b"},
       "y": {"field": "n", "type": "quantitative", "scale": {"domain": [0, 328.3], "nice": false}, "axis": {"values": [0,50,100,150,200,250,300], "format": "d", "labelPadding": 18, "title": null}},
       "y2": {"datum": 0}
      }},
     {"data": {"name": "sf"}, "mark": {"type": "rule", "strokeDash": [7,3.5], "strokeWidth": 2.5},
      "encoding": {"x": {"field": "v", "type": "quantitative"}, "color": {"field": "lv", "type": "nominal", "scale": {"domain": ["1σ","2σ","3σ"], "range": ["#0000ff","#ff0000","#008000"]}, "legend": null}}},
     {"data": {"values": [{}]}, "mark": {"type": "rule", "color": "black", "strokeWidth": 2.5}, "encoding": {"x": {"datum": 0.01}}},
     {"data": {"name": "sf"}, "transform": [{"filter": "datum.v < 0 && datum.lv == '1σ'"}], "mark": {"type": "text", "align": "right", "baseline": "middle", "dx": -5, "fontSize": 24},
      "encoding": {"x": {"field": "v", "type": "quantitative"}, "y": {"datum": 307}, "text": {"field": "lv"}, "color": {"field": "lv", "type": "nominal", "legend": null}}},
     {"data": {"name": "sf"}, "transform": [{"filter": "datum.v < 0 && datum.lv != '1σ'"}], "mark": {"type": "text", "align": "right", "baseline": "middle", "dx": -4, "fontSize": 24},
      "encoding": {"x": {"field": "v", "type": "quantitative"}, "y": {"datum": 256}, "text": {"field": "lv"}, "color": {"field": "lv", "type": "nominal", "legend": null}}},
     {"data": {"name": "sf"}, "transform": [{"filter": "datum.v > 0 && datum.lv == '1σ'"}], "mark": {"type": "text", "align": "left", "baseline": "middle", "dx": 7, "fontSize": 24},
      "encoding": {"x": {"field": "v", "type": "quantitative"}, "y": {"datum": 307}, "text": {"field": "lv"}, "color": {"field": "lv", "type": "nominal", "legend": null}}},
     {"data": {"name": "sf"}, "transform": [{"filter": "datum.v > 0 && datum.lv != '1σ'"}], "mark": {"type": "text", "align": "left", "baseline": "middle", "dx": 6, "fontSize": 24},
      "encoding": {"x": {"field": "v", "type": "quantitative"}, "y": {"datum": 256}, "text": {"field": "lv"}, "color": {"field": "lv", "type": "nominal", "legend": null}}},
     {"data": {"values": [{}]}, "mark": {"type": "text", "text": "(f)", "align": "right", "baseline": "middle", "fontSize": 24, "color": "black"},
      "encoding": {"x": {"datum": 1.065}, "y": {"datum": 296.5}}}
    ]}
  ], "spacing": 83, "bounds": "flush", "resolve": {"scale": {"color": "independent"}, "legend": {"color": "independent"}}}
 ]}
]
}
